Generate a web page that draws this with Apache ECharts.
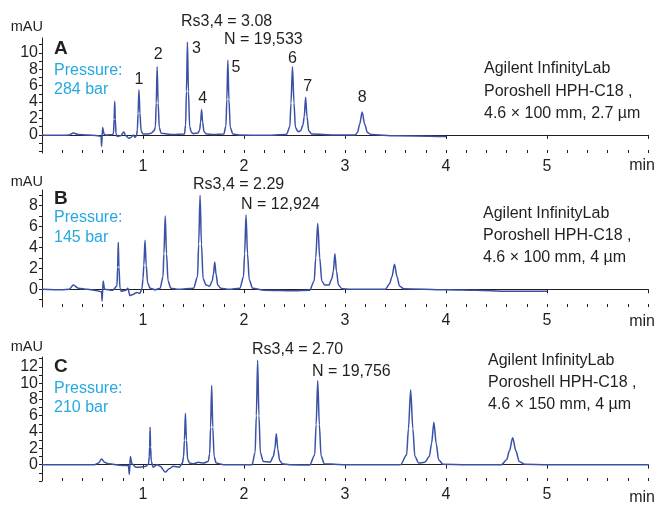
<!DOCTYPE html>
<html>
<head>
<meta charset="utf-8">
<script src="https://cdn.jsdelivr.net/npm/echarts@6/dist/echarts.min.js"></script>
<style>
  html, body { margin: 0; padding: 0; background: #fff; }
  #chart { width: 657px; height: 508px; }
</style>
</head>
<body>
<div id="chart"></div>
<script>
// chromatogram traces, [time (min), signal (mAU)]
const traceA = [
  [0, 0], [0.1, -0.05], [0.2, -0.05], [0.27, 0], [0.31, 0.25], [0.36, 0.05], [0.45, 0], [0.55, -0.1],
  [0.585, -0.2], [0.59, -1.4], [0.6, 0.9], [0.615, 0.1], [0.63, 0], [0.7, 0.05],
  [0.708, 0.2], [0.714, 1.9], [0.72, 4.1], [0.726, 1.9], [0.733, 0.1],
  [0.745, -0.2], [0.78, -0.1], [0.81, 0.35], [0.83, -0.1], [0.86, -0.4], [0.88, -0.3], [0.905, 0],
  [0.92, -0.3], [0.935, -0.1],
  [0.944, 0.6], [0.951, 2.6], [0.96, 5.5], [0.97, 2.6], [0.981, 0.5], [1.0, 0.1],
  [1.04, 0.1], [1.08, 0.2], [1.11, 0.5],
  [1.123, 1.0], [1.131, 3.9], [1.14, 8.3], [1.15, 3.9], [1.161, 0.9], [1.18, 0.2],
  [1.3, 0.05], [1.41, 0.1],
  [1.422, 1.2], [1.43, 5.3], [1.44, 11.3], [1.45, 5.3], [1.462, 1.0], [1.48, 0.3], [1.5, 0.15], [1.545, 0.25],
  [1.561, 0.6], [1.57, 1.5], [1.58, 3.1], [1.591, 1.5], [1.604, 0.4], [1.63, 0.1],
  [1.7, 0.05], [1.8, 0.1],
  [1.821, 1.1], [1.83, 4.3], [1.84, 9.1], [1.851, 4.3], [1.864, 0.9], [1.89, 0.1],
  [1.95, 0], [2.2, -0.05], [2.42, 0.05],
  [2.454, 1.0], [2.465, 3.9], [2.48, 8.3], [2.495, 3.9], [2.509, 0.9], [2.535, 0.4],
  [2.56, 0.5], [2.584, 1.2], [2.596, 2.2], [2.61, 4.6], [2.624, 2.2], [2.641, 0.5], [2.67, 0.1],
  [2.9, 0], [3.1, 0],
  [3.124, 0.3], [3.145, 1.3], [3.17, 2.8], [3.195, 1.3], [3.222, 0.3], [3.26, 0.05],
  [3.5, -0.1], [4.0, -0.2]
];
const traceB = [
  [0, 0], [0.2, -0.05], [0.27, 0], [0.31, 0.4], [0.36, 0.1], [0.45, 0], [0.55, -0.15], [0.59, -0.25],
  [0.595, -1.15], [0.605, 0.8], [0.62, 0], [0.7, -0.1],
  [0.742, 0.3], [0.749, 2.1], [0.755, 4.5], [0.762, 2.1], [0.772, 0.1],
  [0.785, -0.2], [0.83, -0.1], [0.85, 0.1], [0.87, -0.6], [0.9, -0.5], [0.94, -0.3], [0.97, -0.4], [0.99, 0.1],
  [1.0, 1.0], [1.008, 2.3], [1.02, 4.7], [1.032, 2.3], [1.046, 0.6], [1.07, 0.1],
  [1.12, -0.05], [1.17, 0.1],
  [1.198, 1.2], [1.207, 3.4], [1.22, 7.0], [1.233, 3.4], [1.248, 0.8], [1.275, 0.1],
  [1.35, 0], [1.5, 0.1],
  [1.54, 1.2], [1.551, 4.3], [1.565, 9.0], [1.579, 4.3], [1.595, 1.0], [1.625, 0.4], [1.66, 0.3],
  [1.685, 0.8], [1.697, 1.4], [1.71, 2.6], [1.724, 1.4], [1.74, 0.4], [1.77, 0.1],
  [1.85, 0], [1.96, 0.1],
  [1.995, 1.2], [2.006, 3.4], [2.02, 7.1], [2.035, 3.4], [2.052, 0.9], [2.085, 0.1],
  [2.2, -0.1], [2.5, -0.15], [2.65, -0.1],
  [2.695, 0.8], [2.71, 3.0], [2.73, 6.3], [2.75, 3.0], [2.77, 0.8], [2.8, 0.4], [2.84, 0.4],
  [2.87, 1.0], [2.884, 1.7], [2.9, 3.4], [2.916, 1.7], [2.935, 0.4], [2.97, 0.05],
  [3.05, 0], [3.4, 0],
  [3.44, 0.5], [3.465, 1.2], [3.49, 2.4], [3.515, 1.2], [3.54, 0.3], [3.58, 0.05],
  [4.0, -0.05], [4.3, -0.1], [4.6, -0.2], [5.0, -0.2]
];
const traceC = [
  [0, 0], [0.4, 0], [0.52, 0], [0.56, 0.2], [0.59, 0.7], [0.62, 0.3], [0.66, 0.1], [0.8, -0.1],
  [0.855, -0.1], [0.865, -1.2], [0.875, 1.0], [0.89, 0.1], [0.93, -0.3], [0.97, -0.3], [1.03, -0.2], [1.055, 0.1],
  [1.062, 1.0], [1.066, 2.2], [1.07, 4.6], [1.075, 2.2], [1.082, 0.4], [1.1, -0.3],
  [1.14, 0], [1.17, -0.2], [1.22, -0.9], [1.26, -0.5], [1.3, -0.2], [1.36, -0.3], [1.39, 0.2],
  [1.402, 1.0], [1.41, 3.0], [1.42, 6.3], [1.43, 3.0], [1.442, 0.7], [1.46, 0.2],
  [1.5, 0.1], [1.55, 0.3], [1.6, 0.2], [1.645, 0.4],
  [1.66, 1.3], [1.669, 4.6], [1.68, 9.7], [1.691, 4.6], [1.704, 1.0], [1.725, 0.2],
  [1.8, 0], [2.08, 0],
  [2.11, 1.5], [2.122, 6.0], [2.135, 12.8], [2.148, 6.0], [2.162, 1.5], [2.19, 0.4], [2.26, 0.3],
  [2.29, 1.0], [2.305, 1.9], [2.32, 3.8], [2.335, 1.9], [2.353, 0.5], [2.38, 0.1],
  [2.45, 0], [2.65, -0.05],
  [2.7, 1.2], [2.714, 4.9], [2.73, 10.3], [2.746, 4.9], [2.763, 1.1], [2.795, 0.1],
  [3.0, 0], [3.55, 0],
  [3.61, 1.2], [3.628, 4.4], [3.65, 9.2], [3.672, 4.4], [3.692, 1.0], [3.73, 0.2], [3.79, 0.3],
  [3.835, 1.0], [3.857, 2.6], [3.88, 5.2], [3.903, 2.6], [3.927, 0.6], [3.97, 0.05],
  [4.2, 0], [4.55, 0],
  [4.6, 0.6], [4.628, 1.7], [4.66, 3.3], [4.692, 1.7], [4.725, 0.4], [4.78, 0.05],
  [5.0, 0], [6.0, 0]
];

// peak numbers in panel A, placed in data units
const peakNames = ['1', '2', '3', '4', '5', '6', '7', '8'];
const peakLabelTime = [0.96, 1.15, 1.53, 1.59, 1.92, 2.48, 2.63, 3.17];
const peakLabelMau = [6.75, 9.76, 10.5, 4.46, 8.2, 9.28, 5.9, 4.6];

const xTickLabels = [1, 2, 3, 4, 5];
const yLabelsA = [0, 2, 4, 6, 8, 10];
const yLabelsB = [0, 2, 4, 6, 8];
const yLabelsC = [0, 2, 4, 6, 8, 10, 12];

const panels = [
  { name: 'A', pressure: '284 bar', rs: 'Rs3,4 = 3.08', n: 'N = 19,533', col: '4.6 × 100 mm, 2.7 µm' },
  { name: 'B', pressure: '145 bar', rs: 'Rs3,4 = 2.29', n: 'N = 12,924', col: '4.6 × 100 mm, 4 µm' },
  { name: 'C', pressure: '210 bar', rs: 'Rs3,4 = 2.70', n: 'N = 19,756', col: '4.6 × 150 mm, 4 µm' }
];

const FONT = '"Liberation Sans", Arial, sans-serif';
const DARK = '#231f20';
const BLUE_TEXT = '#27a8e0';
const LINE = '#3a52a6';

const grids = [
  { left: 42, right: 9, top: 38, height: 115 },
  { left: 42, right: 9, top: 190, height: 117 },
  { left: 42, right: 9, top: 357, height: 124 }
];
const yRanges = [[-2.2, 11.8], [-1.7, 9.5], [-2.0, 13.2]];
const yLabels = [yLabelsA, yLabelsB, yLabelsC];
const traces = [traceA, traceB, traceC];

function range(a, b) {
  const out = [];
  for (let v = a; v <= b; v++) out.push(v);
  return out;
}

const xAxes = [];
const yAxes = [];
const series = [];
grids.forEach((g, i) => {
  // main x axis: line, labels, major ticks
  xAxes.push({
    type: 'value', gridIndex: i, min: 0, max: 6, interval: 1, position: 'bottom',
    axisLine: { show: true, lineStyle: { color: DARK, width: 1 } },
    axisTick: { show: true, length: 4, lineStyle: { color: DARK } },
    axisLabel: { customValues: xTickLabels, color: DARK, fontSize: 16, fontFamily: FONT, margin: 6 },
    splitLine: { show: false }
  });
  // minor ticks pointing up
  xAxes.push({
    type: 'value', gridIndex: i, min: 0, max: 6, interval: 0.2, position: 'bottom', offset: 0,
    axisLine: { show: false },
    axisTick: { show: true, inside: true, length: 3, lineStyle: { color: DARK } },
    axisLabel: { show: false },
    splitLine: { show: false }
  });
  yAxes.push({
    type: 'value', gridIndex: i, min: yRanges[i][0], max: yRanges[i][1],
    axisLine: { show: true, lineStyle: { color: DARK, width: 1 } },
    axisTick: { show: true, length: 3, customValues: range(Math.ceil(yRanges[i][0]), Math.floor(yRanges[i][1])), lineStyle: { color: DARK } },
    axisLabel: { customValues: yLabels[i], color: DARK, fontSize: 16, fontFamily: FONT, margin: 4 },
    splitLine: { show: false }
  });
  series.push({
    type: 'line', xAxisIndex: i * 2, yAxisIndex: i, data: traces[i],
    showSymbol: false, smooth: 0.3, smoothMonotone: 'x',
    lineStyle: { color: LINE, width: 1.5 }, silent: true
  });
});

series.push({
  type: 'scatter', xAxisIndex: 0, yAxisIndex: 0, symbolSize: 0, silent: true,
  itemStyle: { opacity: 1 },
  data: peakNames.map((p, k) => ({ value: [peakLabelTime[k], peakLabelMau[k]], name: p })),
  label: { show: true, position: 'inside', formatter: '{b}', color: DARK, opacity: 1, fontSize: 16, fontFamily: FONT }
});

// panel annotations
const textTops = [
  { mau: 27, letter: 49, p1: 71, p2: 90, rs: [181, 22], n: [224, 40], colX: 484, col: [69, 92, 114], axis: 166 },
  { mau: 182, letter: 199, p1: 218, p2: 238, rs: [193, 185], n: [241, 205], colX: 483, col: [214, 236, 258], axis: 322 },
  { mau: 347, letter: 367, p1: 389, p2: 408, rs: [252, 350], n: [312, 372], colX: 488, col: [361, 383, 405], axis: 498 }
];
function txt(text, x, y, opts) {
  return {
    type: 'text', x: x, y: y, silent: true,
    style: Object.assign({ text: text, font: '16px ' + FONT, fill: DARK, verticalAlign: 'middle', align: 'left' }, opts || {})
  };
}
const graphic = [];
panels.forEach((p, i) => {
  const t = textTops[i];
  graphic.push(txt('mAU', 43, t.mau, { align: 'right', font: '14.5px ' + FONT }));
  graphic.push(txt(p.name, 54, t.letter, { font: 'bold 19px ' + FONT }));
  graphic.push(txt('Pressure:', 54, t.p1, { fill: BLUE_TEXT }));
  graphic.push(txt(p.pressure, 54, t.p2, { fill: BLUE_TEXT }));
  graphic.push(txt(p.rs, t.rs[0], t.rs[1]));
  graphic.push(txt(p.n, t.n[0], t.n[1]));
  graphic.push(txt('Agilent InfinityLab', t.colX, t.col[0]));
  graphic.push(txt('Poroshell HPH-C18 ,', t.colX, t.col[1]));
  graphic.push(txt(p.col, t.colX, t.col[2]));
  graphic.push(txt('min', 655, t.axis, { align: 'right' }));
});

const chart = echarts.init(document.getElementById('chart'), null, { renderer: 'canvas' });
chart.setOption({
  animation: false,
  backgroundColor: '#fff',
  grid: grids,
  xAxis: xAxes,
  yAxis: yAxes,
  series: series,
  graphic: graphic
});
</script>
</body>
</html>
